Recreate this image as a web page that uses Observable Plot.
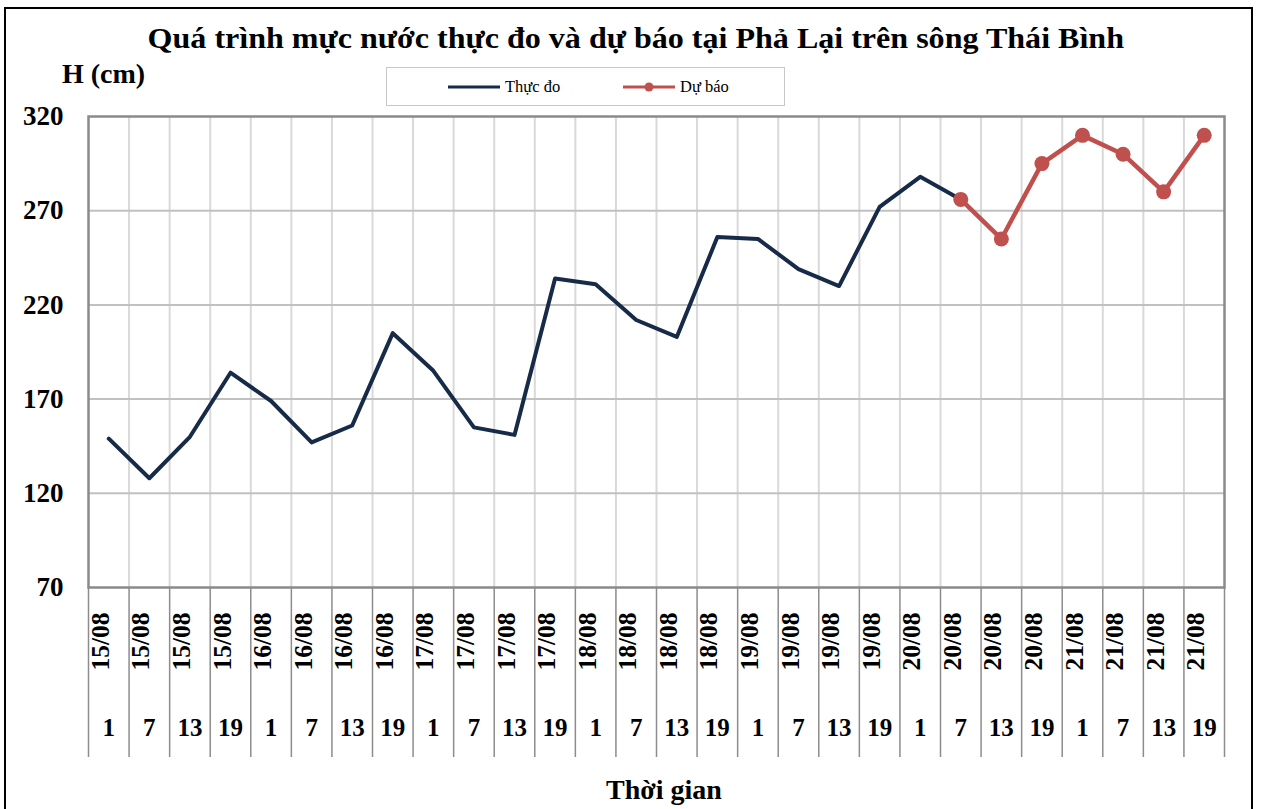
<!DOCTYPE html>
<html>
<head>
<meta charset="utf-8">
<script src="https://cdn.jsdelivr.net/npm/d3@7"></script>
<script src="https://cdn.jsdelivr.net/npm/@observablehq/plot@0.6"></script>
<style>
  html, body { margin: 0; padding: 0; background: #fff; overflow: hidden; }
  #wrap { position: relative; width: 1262px; height: 809px; font-family: "Liberation Serif", "Times New Roman", serif; }
  #border { position: absolute; left: 4px; top: 7px; width: 1249px; height: 830px; border: 2px solid #000; box-sizing: border-box; }
  #title { position: absolute; left: 5px; width: 1262px; top: 22px; text-align: center; color: #000; }
  #title span { display: inline-block; font-weight: bold; font-size: 29px; transform: scaleX(1.105); transform-origin: center; white-space: nowrap; }
  #ylab { position: absolute; left: 62px; top: 58px; font-weight: bold; font-size: 28px; white-space: nowrap; }
  #legend { position: absolute; left: 386px; top: 67px; width: 399px; height: 39px; border: 1.5px solid #c8c8c8; box-sizing: border-box; }
  #xlab { position: absolute; left: 0; width: 1262px; padding-left: 66px; box-sizing: border-box; top: 774px; text-align: center; font-weight: bold; font-size: 28px; }
  #chart { position: absolute; left: 0; top: 0; }
</style>
</head>
<body>
<div id="wrap">
  <div id="chart"></div>
  <div id="border"></div>
  <div id="title"><span></span></div>
  <div id="ylab"></div>
  <div id="legend"></div>
  <div id="xlab"></div>
</div>
<script>
// ---- data ----
const dates = ["15/08","15/08","15/08","15/08","16/08","16/08","16/08","16/08",
               "17/08","17/08","17/08","17/08","18/08","18/08","18/08","18/08",
               "19/08","19/08","19/08","19/08","20/08","20/08","20/08","20/08",
               "21/08","21/08","21/08","21/08"];
const hours = [1,7,13,19,1,7,13,19,1,7,13,19,1,7,13,19,1,7,13,19,1,7,13,19,1,7,13,19];
const observed = [149,128,150,184,169,147,156,205,185,155,151,234,231,212,203,256,255,239,230,272,288,276];
const forecastStart = 21;
const forecast = [276,255,295,310,300,280,310];
const yTicks = [70,120,170,220,270,320];
const titleText = "Quá trình mực nước thực đo và dự báo tại Phả Lại trên sông Thái Bình";
const yLabel = "H (cm)";
const xLabel = "Thời gian";
const seriesNames = ["Thực đo","Dự báo"];
const colors = ["#172b48","#c0504d"];

// ---- tables ----
const cats = dates.map((d,i)=>({i, date:d, hour:hours[i]}));
const obs = observed.map((v,i)=>({i, v}));
const fc = forecast.map((v,j)=>({i: forecastStart+j, v}));
const bounds = d3.range(dates.length+1).map(k=>k-0.5);
const innerBounds = bounds.slice(1,-1);

const font = "Liberation Serif, Times New Roman, serif";

const chart = Plot.plot({
  width: 1262,
  height: 809,
  marginLeft: 88,
  marginRight: 38,
  marginTop: 116,
  marginBottom: 222,
  style: {fontFamily: font, background: "transparent"},
  x: {type: "linear", domain: [-0.5, dates.length-0.5], axis: null},
  y: {domain: [70, 320], ticks: yTicks, tickSize: 0, tickPadding: 25, tickFormat: d=>String(d), label: null},
  marks: [
    Plot.ruleX(innerBounds, {x: d=>d, stroke: "#d9d9d9", strokeWidth: 2}),
    Plot.ruleY(yTicks.slice(1,-1), {y: d=>d, stroke: "#c0c0c0", strokeWidth: 2}),
    Plot.ruleX(bounds, {x: d=>d, y1: 70, y2: 70, stroke: "#8c8c8c", strokeWidth: 1.5, insetBottom: -170}),
    Plot.frame({stroke: "#8a8a8a", strokeWidth: 2.5}),
    Plot.line(obs, {x:"i", y:"v", stroke: colors[0], strokeWidth: 4}),
    Plot.line(fc, {x:"i", y:"v", stroke: colors[1], strokeWidth: 4.5}),
    Plot.dot(fc, {x:"i", y:"v", fill: colors[1], r: 7.5, stroke: "none"}),
    Plot.text(cats, {x:"i", text:"date", frameAnchor:"bottom", dy: 54, rotate: -90, fontSize: 25.5, fontWeight: "bold", fill: "#000"}),
    Plot.text(cats, {x:"i", text: d=>String(d.hour), frameAnchor:"bottom", dy: 148, fontSize: 25, fontWeight: "bold", fill: "#000"})
  ]
});
chart.querySelectorAll('g[aria-label="y-axis tick label"] text, g[aria-label="y-axis tick label"]').forEach(e=>{
  e.setAttribute("font-size", "27");
  e.setAttribute("font-weight", "bold");
  e.setAttribute("fill", "#000");
});
document.getElementById("chart").appendChild(chart);

document.querySelector("#title span").textContent = titleText;
document.getElementById("ylab").textContent = yLabel;
document.getElementById("xlab").textContent = xLabel;

// legend
const lg = d3.select("#legend").append("svg").attr("width", 397).attr("height", 37);
const items = [{x: 61, name: seriesNames[0], c: colors[0], dot: false},{x: 236, name: seriesNames[1], c: colors[1], dot: true}];
items.forEach(it=>{
  lg.append("line").attr("x1", it.x).attr("x2", it.x+52).attr("y1", 19).attr("y2", 19).attr("stroke", it.c).attr("stroke-width", 3);
  if (it.dot) lg.append("circle").attr("cx", it.x+26).attr("cy", 19).attr("r", 4.5).attr("fill", it.c);
  lg.append("text").attr("x", it.x+57).attr("y", 24).attr("font-family", font).attr("font-size", 16.5).attr("fill", "#000").text(it.name);
});
</script>
</body>
</html>
